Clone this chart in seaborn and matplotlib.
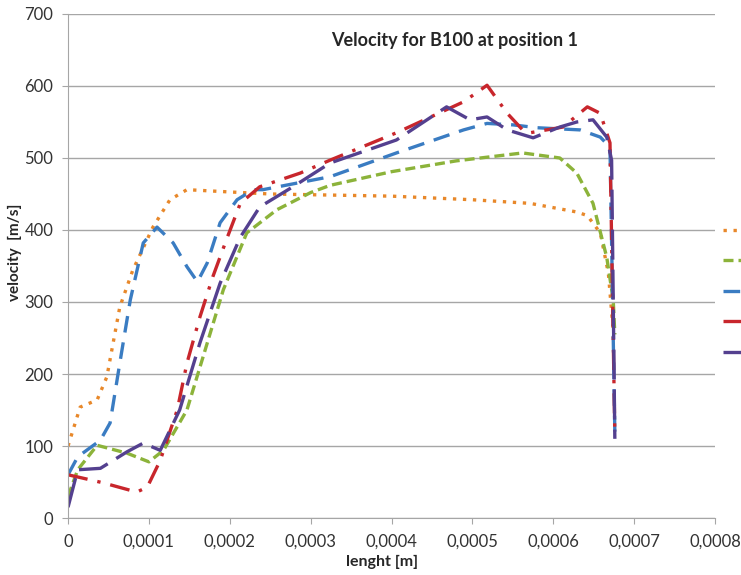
import pandas as pd
import seaborn as sns
import matplotlib.pyplot as plt
from matplotlib.ticker import FuncFormatter

# values: length [m] and velocity [m/s]
x_orange = [0, 0.000015, 0.000036, 0.000048, 0.000064, 0.00008, 0.000105, 0.000126, 0.000147,
            0.000197, 0.00025, 0.0003, 0.0004, 0.0005, 0.000571, 0.000629, 0.000642, 0.000658,
            0.000668, 0.000674]
y_orange = [100, 154, 164, 196, 293, 344, 404, 442, 456, 453, 450, 449, 447, 442, 437, 425, 420,
            396, 340, 260]

x_green = [0, 0.000012, 0.000036, 0.000073, 0.0001, 0.000118, 0.000147, 0.000167, 0.000192,
           0.000221, 0.000258, 0.0003, 0.000324, 0.0004, 0.00048, 0.000562, 0.000608, 0.000629,
           0.000649, 0.000666, 0.000674, 0.000676]
y_green = [30, 67, 101, 90, 78, 94, 150, 224, 317, 396, 428, 452, 462, 481, 496, 507, 500, 479,
           437, 362, 303, 255]

x_blue = [0, 0.000012, 0.00004, 0.000052, 0.000064, 0.000077, 0.000093, 0.00011, 0.00013,
          0.000147, 0.00016, 0.000172, 0.000188, 0.000209, 0.000229, 0.000241, 0.000324,
          0.000406, 0.000489, 0.000518, 0.00055, 0.00058, 0.000633, 0.000658, 0.00067, 0.000676]
y_blue = [60, 85, 108, 132, 215, 303, 382, 404, 382, 349, 328, 354, 410, 442, 456, 456, 474,
          507, 539, 548, 546, 542, 539, 529, 515, 120]

x_red = [0, 0.000012, 0.000043, 0.000085, 0.000098, 0.000114, 0.000135, 0.000147, 0.000163,
         0.000179, 0.000197, 0.000213, 0.000237, 0.000287, 0.000324, 0.000406, 0.000489,
         0.000518, 0.000543, 0.000562, 0.000571, 0.000612, 0.000642, 0.000658, 0.00067,
         0.000676]
y_red = [60, 57, 49, 36, 43, 80, 150, 215, 279, 335, 390, 437, 460, 479, 497, 535, 578, 601, 562,
         539, 535, 543, 571, 562, 521, 115]

x_purple = [0, 0.000012, 0.00004, 0.000073, 0.000093, 0.000114, 0.000138, 0.000163, 0.000188,
            0.000213, 0.000237, 0.000278, 0.000324, 0.000406, 0.000468, 0.000497, 0.000518,
            0.000543, 0.000575, 0.000608, 0.000629, 0.000649, 0.000666, 0.000672, 0.000676]
y_purple = [15, 67, 69, 92, 104, 94, 150, 243, 326, 390, 432, 460, 493, 525, 571, 553, 557, 539,
            528, 543, 550, 553, 529, 497, 110]

series = [
    (x_orange, y_orange, '#e8882a', (0, (1, 2))),
    (x_green, y_green, '#8cb33a', (0, (3, 1.5))),
    (x_blue, y_blue, '#3a7cc2', (0, (5, 3))),
    (x_red, y_red, '#c8262c', (0, (6, 3, 1, 3))),
    (x_purple, y_purple, '#54408f', (0, (9, 3))),
]

sns.set_style('white')
plt.rcParams['font.family'] = ['Lato', 'DejaVu Sans']

fig = plt.figure(figsize=(7.41, 5.75), dpi=100)
ax = fig.add_axes([0.0918, 0.0991, 0.8733, 0.8766])

handles = []
for xs, ys, color, dash in series:
    df = pd.DataFrame({'x': xs, 'y': ys})
    sns.lineplot(data=df, x='x', y='y', ax=ax, color=color, linewidth=2.4,
                 linestyle=dash, sort=False, estimator=None)
    handles.append(ax.lines[-1])

ax.set_xlim(0, 0.0008)
ax.set_ylim(0, 700)
ax.set_xticks([i * 0.0001 for i in range(9)])
ax.set_yticks(range(0, 701, 100))
ax.xaxis.set_major_formatter(FuncFormatter(
    lambda v, p: '0' if abs(v) < 1e-12 else ('%.4f' % v).replace('.', ',')))
ax.yaxis.grid(True, color='#a6a6a6', linewidth=1)
ax.xaxis.grid(False)
for side in ['top', 'right']:
    ax.spines[side].set_visible(False)
for side in ['left', 'bottom']:
    ax.spines[side].set_color('#a6a6a6')
ax.tick_params(axis='both', which='both', length=4.5, color='#a6a6a6', labelsize=12,
               labelcolor='#333333', direction='out', bottom=True, left=True)
ax.tick_params(axis='y', pad=6)
ax.tick_params(axis='x', pad=7)

ax.set_xlabel('lenght [m]', fontsize=11.5, fontweight='bold')
ax.xaxis.set_label_coords(0.485, -0.073)
ax.set_ylabel('velocity  [m/s]', fontsize=11, fontweight='bold')
ax.yaxis.set_label_coords(-0.071, 0.528)
ax.text(0.597, 0.948, 'Velocity for B100 at position 1', transform=ax.transAxes,
        ha='center', va='center', fontsize=13, fontweight='bold')

# legend text falls outside the figure, only the line samples show
fig.legend(handles, ['', '', '', '', ''], loc='upper left', bbox_to_anchor=(0.959, 0.631),
           frameon=False, handlelength=3, labelspacing=1.33, handletextpad=0.4)

fig.savefig('out.png', dpi=100)
